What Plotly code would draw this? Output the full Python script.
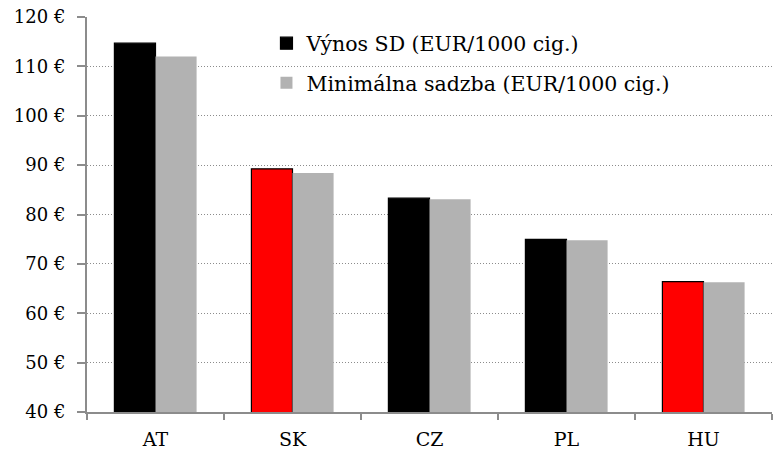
import plotly.graph_objects as go

categories = ["AT", "SK", "CZ", "PL", "HU"]
vynos_sd = [114.7, 89.25, 83.3, 74.95, 66.4]
min_sadzba = [112.0, 88.4, 83.1, 74.8, 66.3]
vynos_colors = ["#000000", "#ff0000", "#000000", "#000000", "#ff0000"]
y_ticks = [40, 50, 60, 70, 80, 90, 100, 110, 120]
y_tick_labels = [f"{v} €" for v in y_ticks]

FONT = "DejaVu Serif"

fig = go.Figure()
fig.add_trace(go.Bar(
    x=categories, y=vynos_sd, name="Výnos SD (EUR/1000 cig.)",
    marker=dict(color=vynos_colors, line=dict(color="#000000", width=1.2)),
    legendgroup="a",
))
fig.add_trace(go.Bar(
    x=categories, y=min_sadzba, name="Minimálna sadzba (EUR/1000 cig.)",
    marker=dict(color="#b2b2b2", line=dict(color="#b2b2b2", width=0)),
    legendgroup="b",
))

fig.update_layout(
    width=782, height=454,
    margin=dict(l=87, r=10, t=17, b=42),
    paper_bgcolor="white", plot_bgcolor="white",
    barmode="group", bargap=0.4, bargroupgap=0,
    font=dict(family=FONT, size=19, color="#000000"),
    showlegend=True,
    legend=dict(
        x=0.262, y=0.984, xanchor="left", yanchor="top",
        bgcolor="rgba(0,0,0,0)", font=dict(family=FONT, size=20.5),
        tracegroupgap=10, itemwidth=30,
    ),
    xaxis=dict(
        showline=True, linecolor="#8c8c8c", linewidth=2,
        ticks="outside", tickson="boundaries", ticklen=6, tickcolor="#8c8c8c", tickwidth=2,
        showgrid=False, ticklabelstandoff=9, automargin=False,
        tickfont=dict(size=19),
    ),
    yaxis=dict(
        range=[40, 120], tickvals=y_ticks, ticktext=y_tick_labels,
        showline=True, linecolor="#8c8c8c", linewidth=2,
        ticks="outside", ticklen=8, tickcolor="#8c8c8c", tickwidth=2,
        showgrid=True, gridcolor="#8c8c8c", gridwidth=1, griddash="1px,2px",
        zeroline=False, ticklabelstandoff=8, automargin=False,
        tickfont=dict(size=18),
    ),
)

fig.write_html("out.html", config={"displayModeBar": False},
               post_script="document.body.style.margin='0';")
